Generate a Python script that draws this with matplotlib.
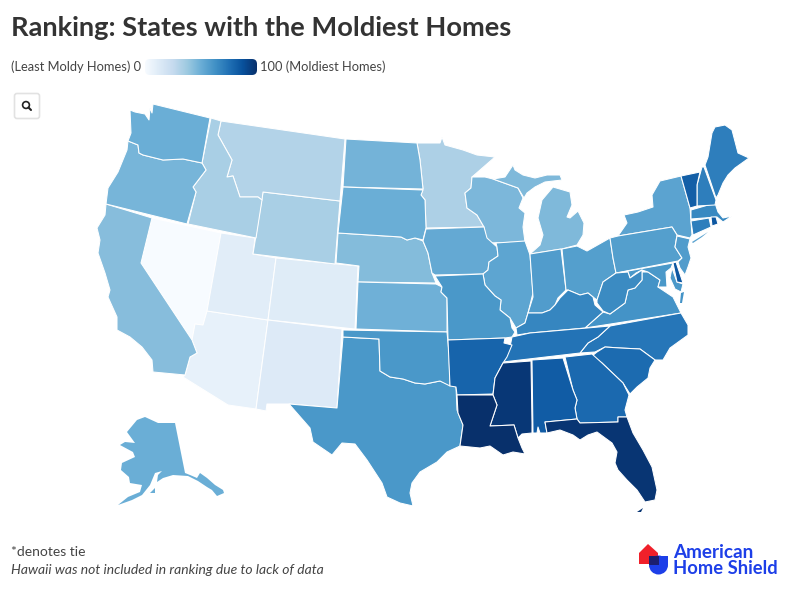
import numpy as np
import matplotlib
matplotlib.use("Agg")
import matplotlib.pyplot as plt
from matplotlib.patches import Polygon, FancyBboxPatch, Circle, Rectangle
from matplotlib.colors import Normalize

state_codes = ["NV","AZ","UT","CO","NM","WY","MT","ID","MN","CA","NE","OR","WI","MI","MI2","ND","SD","KS","WA","AK","AK2","IA","IL","IN","OH","NY","LI","PA","NJ","MO","TX","OK","VA","VA2","MD","MD2","WV","KY","ME","MA","CT","NH","NC","TN","SC","GA","AR","AL","VT","RI","DE","MS","FL","FK","LA"]
state_scores = [0,8,11,12,13,34,31,34,33,43,44,47,46,45,45,48,50,49,50,50,50,52,54,58,57,55,55,57,58,60,60,60,62,62,60,60,65,67,70,66,70,70,73,74,77,78,80,83,82,85,85,97,98,98,100]

# State outlines (map units)
outlines = {
"WA":[(153,104),(210,118),(202,163),(183,159),(163,160),(155,158),(143,155),(139,153),(138,145),(128,141),(131,133),(130,110),(135,112),(145,114),(149,120),(150,108),(152,113)],
"OR":[(128,141),(138,145),(139,153),(143,155),(155,158),(163,160),(183,159),(202,163),(206,170),(193,187),(196,192),(187,224),(106,204),(108,188),(118,172),(127,150)],
"CA":[(106,204),(152,218),(141,263),(192,340),(197,353),(190,357),(185,375),(153,372),(152,360),(142,347),(130,337),(117,330),(117,317),(108,297),(110,290),(105,273),(98,253),(100,240),(97,228),(105,215)],
"NV":[(152,218),(221,233),(207,311),(203,325),(195,324),(192,340),(141,263)],
"ID":[(211,118),(221,121),(218,135),(232,160),(227,177),(233,176),(240,197),(258,197),(262,200),(256,238),(188,224),(196,192),(193,187),(206,170),(202,163)],
"MT":[(221,121),(345,139),(340,201),(263,192),(262,200),(258,197),(240,197),(233,176),(227,177),(232,160),(218,135)],
"WY":[(263,192),(340,201),(335,264),(253,254)],
"UT":[(221,233),(255,238),(253,254),(276,258),(268,320),(207,311)],
"CO":[(276,258),(358,266),(355,329),(268,320)],
"AZ":[(207,311),(268,320),(256,409),(228,405),(183,377),(185,375),(190,357),(197,353),(192,340),(195,324),(203,325)],
"NM":[(268,320),(342,329),(337,408),(289,404),(267,404),(266,411),(256,409)],
"ND":[(346,139),(417,143),(420,160),(423,189),(343,187)],
"SD":[(343,187),(423,190),(421,195),(425,200),(426,228),(423,240),(415,238),(407,240),(401,237),(338,233)],
"MN":[(417,143),(440,143),(442,137),(445,145),(463,150),(477,155),(495,157),(472,177),(471,188),(465,193),(467,208),(477,215),(484,227),(426,228),(425,200),(421,195),(423,189),(420,160)],
"NE":[(338,233),(401,237),(407,240),(415,238),(423,241),(428,253),(432,273),(436,283),(358,282),(359,266),(336,263)],
"KS":[(358,282),(436,284),(442,287),(441,292),(447,298),(447,332),(356,329)],
"OK":[(343,330),(447,332),(449,353),(450,386),(440,381),(425,384),(415,383),(403,379),(390,377),(380,371),(379,339),(343,337)],
"TX":[(343,337),(379,339),(380,371),(390,377),(403,379),(415,383),(425,384),(440,381),(456,387),(457,410),(463,425),(460,446),(447,452),(437,462),(420,472),(412,483),(410,493),(413,506),(400,503),(387,497),(382,483),(367,460),(355,444),(342,443),(332,455),(313,442),(310,428),(289,404),(337,408)],
"IA":[(426,229),(484,227),(487,238),(497,247),(498,256),(489,262),(488,270),(483,274),(435,275),(432,273),(428,253),(423,241)],
"MO":[(435,276),(483,274),(485,285),(495,296),(501,300),(500,310),(510,318),(512,328),(515,332),(512,337),(505,338),(448,340),(447,298),(441,292),(442,287)],
"AR":[(448,340),(505,338),(504,343),(512,345),(507,357),(503,363),(495,378),(493,394),(457,395),(456,387),(450,386)],
"LA":[(457,395),(493,395),(497,405),(490,426),(514,425),(518,438),(522,448),(525,454),(513,452),(503,455),(490,446),(480,448),(460,446),(463,425),(458,413)],
"MS":[(503,363),(531,361),(532,423),(532,433),(522,434),(518,438),(514,425),(490,426),(497,405),(493,395),(495,378)],
"AL":[(532,360),(563,358),(573,390),(577,400),(575,408),(577,419),(545,422),(547,433),(540,433),(538,427),(537,433),(533,433)],
"GA":[(565,357),(592,354),(602,363),(623,383),(629,395),(625,410),(627,417),(618,417),(618,422),(580,423),(577,419),(575,408),(577,400),(573,390)],
"FL":[(545,422),(577,419),(580,423),(618,422),(618,417),(627,417),(633,433),(643,450),(652,467),(657,490),(655,500),(645,502),(637,490),(627,480),(618,470),(615,463),(617,452),(612,443),(597,432),(588,435),(580,440),(573,435),(560,430),(547,433)],
"FK":[(637,512),(643,508),(641,512)],
"SC":[(592,356),(597,352),(605,347),(620,348),(640,349),(655,360),(650,368),(648,378),(637,387),(630,394),(623,383),(602,363)],
"NC":[(610,326),(681,313),(688,325),(688,335),(670,348),(663,360),(655,360),(640,349),(620,348),(605,347),(595,352),(580,353),(588,343),(598,337)],
"TN":[(503,362),(580,353),(588,343),(598,337),(610,326),(530,333),(512,337),(510,347)],
"KY":[(517,335),(530,333),(585,328),(603,312),(595,305),(593,297),(588,293),(580,295),(568,290),(560,298),(555,305),(550,310),(542,313),(528,313),(525,323),(516,328)],
"IL":[(496,243),(525,241),(530,255),(533,293),(528,313),(525,323),(516,328),(510,318),(500,310),(501,300),(495,296),(485,285),(483,274),(488,270),(489,262),(498,256),(497,247)],
"WI":[(472,177),(485,177),(493,179),(518,188),(523,198),(519,208),(525,213),(523,227),(525,242),(487,243),(484,227),(477,215),(467,208),(465,193),(471,188)],
"MI":[(493,179),(505,177),(513,165),(515,170),(523,175),(535,178),(547,175),(560,175),(562,180),(545,182),(535,187),(527,193),(524,198),(518,188)],
"MI2":[(530,254),(562,249),(577,245),(583,235),(584,223),(578,211),(570,218),(567,217),(572,205),(570,192),(553,187),(542,200),(538,218),(543,235),(540,245)],
"IN":[(530,254),(561,249),(566,290),(558,298),(555,305),(550,310),(542,313),(528,313),(533,297)],
"OH":[(562,249),(577,246),(587,251),(610,238),(613,258),(616,273),(603,282),(597,300),(593,297),(588,293),(580,295),(568,290),(566,290)],
"PA":[(610,238),(618,236),(672,227),(677,235),(675,247),(682,258),(678,261),(616,273),(613,258)],
"NY":[(618,236),(627,223),(624,215),(638,212),(653,207),(652,195),(660,181),(681,176),(690,208),(692,235),(690,238),(677,235),(672,227)],
"LI":[(692,242),(708,232),(702,237),(693,243)],
"VT":[(681,176),(700,172),(697,185),(697,206),(690,208)],
"NH":[(702,167),(704,167),(716,200),(715,205),(697,206),(697,185)],
"ME":[(705,165),(708,157),(712,133),(715,127),(725,125),(732,130),(738,153),(749,158),(735,168),(728,175),(723,183),(718,195),(716,198)],
"MA":[(691,210),(715,203),(718,212),(723,218),(732,216),(723,222),(717,217),(691,219)],
"CT":[(691,221),(709,218),(711,227),(693,235)],
"RI":[(711,217),(716,217),(718,224),(712,226)],
"NJ":[(677,236),(690,239),(688,247),(691,258),(688,267),(685,275),(680,268),(678,262),(682,258),(675,247)],
"DE":[(673,263),(676,262),(683,283),(677,282)],
"MD":[(617,273),(673,263),(671,268),(666,272),(667,287),(658,287),(660,280),(648,272),(642,270),(636,273),(630,278),(628,272)],
"MD2":[(672,268),(670,278),(675,289),(681,292),(683,284),(677,282)],
"VA":[(585,328),(681,313),(677,305),(673,297),(658,287),(660,280),(648,272),(642,272),(642,280),(635,288),(628,290),(625,303),(610,314),(603,312)],
"VA2":[(681,293),(684,292),(682,303),(680,303)],
"WV":[(597,300),(603,282),(616,273),(628,272),(630,278),(642,270),(642,280),(635,288),(628,290),(625,303),(610,314),(603,311),(597,303)],
"AK":[(175,423),(185,473),(190,475),(197,478),(200,473),(207,478),(215,485),(223,490),(224,493),(217,496),(212,490),(207,487),(198,481),(188,476),(173,475),(163,478),(157,482),(158,475),(162,471),(155,473),(150,485),(142,495),(132,500),(118,505),(128,497),(140,492),(142,485),(130,483),(129,477),(121,470),(122,463),(135,457),(133,452),(120,445),(125,442),(135,443),(127,432),(137,420),(145,417),(158,423)],
"AK2":[(150,493),(155,488),(155,493)],
}
no_edge = {"FK", "LI", "VA2", "AK", "AK2"}

title_text = "Ranking: States with the Moldiest Homes"
legend_low = "(Least Moldy Homes) 0"
legend_high = "100 (Moldiest Homes)"
note_1 = "*denotes tie"
note_2 = "Hawaii was not included in ranking due to lack of data"

plt.rcParams["font.family"] = ["Lato", "DejaVu Sans"]
W, H = 795, 599
fig = plt.figure(figsize=(W/100, H/100), dpi=100)
ax = fig.add_axes([0, 0, 1, 1])
ax.set_xlim(0, W); ax.set_ylim(H, 0); ax.axis("off")

cmap = plt.get_cmap("Blues")
norm = Normalize(0, 100)
for code, score in zip(state_codes, state_scores):
    lw = 0 if code in no_edge else 0.75
    ax.add_patch(Polygon(outlines[code], closed=True, facecolor=cmap(norm(score)),
                         edgecolor="white" if lw else "none", linewidth=lw, joinstyle="round", zorder=2))

ink = "#333333"
ax.text(11, 28, title_text, fontsize=19.6, fontweight="bold", color=ink, va="center", ha="left")
ax.text(11, 66.5, legend_low, fontsize=9.25, color="#444444", va="center", ha="left")
ax.text(260, 66.5, legend_high, fontsize=9.25, color="#444444", va="center", ha="left")

grad = np.linspace(0, 100, 256).reshape(1, -1)
im = ax.imshow(grad, cmap=cmap, norm=norm, extent=(145, 257, 75, 59), aspect="auto", zorder=2)
clip = FancyBboxPatch((145, 59), 112, 16, boxstyle="round,pad=0,rounding_size=5", facecolor="none", edgecolor="none")
ax.add_patch(clip)
im.set_clip_path(clip)
ax.set_xlim(0, W); ax.set_ylim(H, 0)

# zoom button
ax.add_patch(FancyBboxPatch((14.5, 93.5), 25, 25, boxstyle="round,pad=0,rounding_size=2.5",
                            facecolor="white", edgecolor="#e2e2e2", linewidth=1.2, zorder=4))
ax.add_patch(Circle((26, 105), 3.4, facecolor="none", edgecolor="#222222", linewidth=1.2, zorder=5))
ax.plot([28.5, 31], [107.5, 110], color="#222222", lw=1.5, solid_capstyle="round", zorder=5)

ax.text(11, 552, note_1, fontsize=10, color="#444444", va="center", ha="left")
ax.text(11, 570, note_2, fontsize=10, style="italic", color="#444444", va="center", ha="left")

# logo
blue = "#1d3fe8"
ax.add_patch(Polygon([(639,553),(648,544),(658,553),(658,564),(639,564)], closed=True, facecolor="#f0202a", edgecolor="none", zorder=5))
ax.add_patch(Rectangle((649, 556), 19, 9, facecolor=blue, edgecolor="none", zorder=6))
ax.add_patch(Circle((658.5, 565), 9.5, facecolor=blue, edgecolor="none", zorder=6))
ax.add_patch(Rectangle((649, 556), 9.5, 9, facecolor="#1c1f6e", edgecolor="none", zorder=7))
ax.text(673, 552.5, "American", fontsize=13.6, fontweight="bold", color=blue, va="center", ha="left")
ax.text(673, 569, "Home Shield", fontsize=13.2, fontweight="bold", color=blue, va="center", ha="left")

fig.savefig("out.png", dpi=100, facecolor="white")
